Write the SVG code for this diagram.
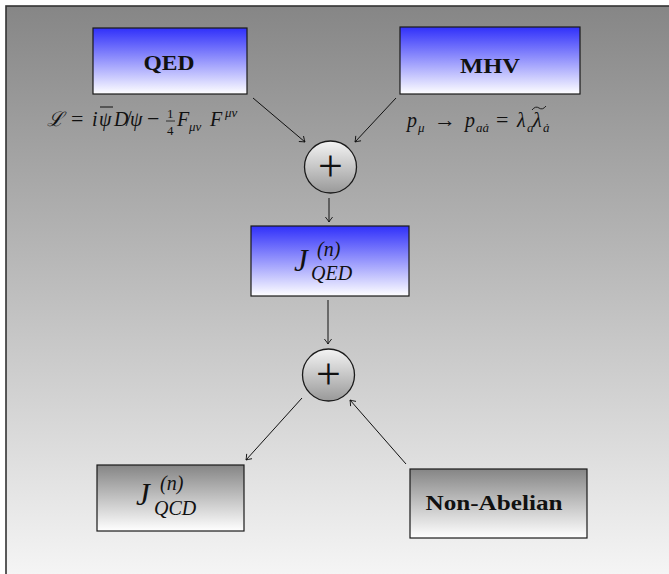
<svg xmlns="http://www.w3.org/2000/svg" width="669" height="574" viewBox="0 0 669 574">
  <defs>
    <linearGradient id="bg" x1="0" y1="0" x2="0" y2="1">
      <stop offset="0" stop-color="#868686"/>
      <stop offset="1" stop-color="#fbfbfb"/>
    </linearGradient>
    <linearGradient id="blue" x1="0" y1="0" x2="0" y2="1">
      <stop offset="0" stop-color="#3030fa"/>
      <stop offset="1" stop-color="#ffffff"/>
    </linearGradient>
    <linearGradient id="gray" x1="0" y1="0" x2="0" y2="1">
      <stop offset="0" stop-color="#858585"/>
      <stop offset="1" stop-color="#ffffff"/>
    </linearGradient>
    <linearGradient id="ball" x1="0" y1="0" x2="0" y2="1">
      <stop offset="0" stop-color="#f4f4f4"/>
      <stop offset="1" stop-color="#999999"/>
    </linearGradient>
    <marker id="tip" markerWidth="10" markerHeight="10" viewBox="-6 -5 8 10" refX="0" refY="0" orient="auto" markerUnits="userSpaceOnUse">
      <path d="M -5 -3.6 Q -1.2 -0.6 0 0 Q -1.2 0.6 -5 3.6" fill="none" stroke="#111" stroke-width="0.9"/>
    </marker>
  </defs>
  <style>
    .box { stroke: #1a1a1a; stroke-width: 1.2; }
    .ball { fill: url(#ball); stroke: #1a1a1a; stroke-width: 1.3; }
    .lbl { font-family: "Liberation Serif", "DejaVu Serif", serif; font-weight: bold; font-size: 20px; fill: #111; text-anchor: middle; }
    .m { font-family: "Liberation Serif", "DejaVu Serif", serif; font-size: 20px; fill: #111; }
    .i { font-style: italic; }
    .s { font-size: 13px; }
    .op { font-size: 22px; }
    .big { font-size: 31px; }
    .mid { font-size: 20px; }
    .plus { font-family: "Liberation Serif", serif; font-size: 44px; fill: #111; text-anchor: middle; }
    .edge { stroke: #111; stroke-width: 1; fill: none; marker-end: url(#tip); }
  </style>

  <!-- backdrop -->
  <rect x="6" y="6" width="700" height="600" fill="url(#bg)" stroke="#333" stroke-width="1.6"/>

  <g id="qed">
    <rect class="box" x="93" y="28" width="154" height="66" fill="url(#blue)"/>
    <text class="lbl" x="169" y="70" textLength="51" lengthAdjust="spacingAndGlyphs">QED</text>
  </g>

  <g id="mhv">
    <rect class="box" x="400" y="27" width="180" height="67" fill="url(#blue)"/>
    <text class="lbl" x="490" y="73" textLength="60" lengthAdjust="spacingAndGlyphs">MHV</text>
  </g>

  <!-- QED Lagrangian -->
  <g id="lagrangian" class="m">
    <text x="47" y="126" font-family="DejaVu Serif, serif" font-style="italic">ℒ</text>
    <text x="71" y="126" class="op">=</text>
    <text x="92" y="126" class="i">i</text>
    <text x="99" y="126" class="i">ψ</text>
    <line x1="100" y1="107" x2="113" y2="107" stroke="#111" stroke-width="1"/>
    <text x="114" y="126" class="i">D̸</text>
    <text x="130" y="126" class="i">ψ</text>
    <text x="147" y="126" class="op">−</text>
    <text x="167" y="118" class="s">1</text>
    <line x1="166" y1="121" x2="175" y2="121" stroke="#111" stroke-width="0.8"/>
    <text x="167" y="135" class="s">4</text>
    <text x="177" y="126" class="i">F</text>
    <text x="189" y="131" class="i s">μν</text>
    <text x="210" y="126" class="i">F</text>
    <text x="225" y="117" class="i s">μν</text>
  </g>

  <!-- spinor-helicity momentum -->
  <g id="momentum" class="m">
    <text x="407" y="127" class="i">p</text>
    <text x="418" y="132" class="i s">μ</text>
    <text x="434" y="127" class="op">→</text>
    <text x="465" y="127" class="i">p</text>
    <text x="476" y="132" class="i s">aȧ</text>
    <text x="496" y="127" class="op">=</text>
    <text x="517" y="127" class="i">λ</text>
    <text x="527" y="132" class="i s">a</text>
    <text x="533" y="127" class="i">λ</text>
    <path d="M 532 110 Q 535.5 105.5 539 108 Q 542.5 110.5 546 106" fill="none" stroke="#111" stroke-width="0.9"/>
    <text x="543" y="132" class="i s">ȧ</text>
  </g>

  <g id="sum1">
    <circle class="ball" cx="330.5" cy="167" r="26"/>
    <text class="plus" x="330.5" y="181">+</text>
  </g>

  <g id="jqed">
    <rect class="box" x="251" y="226" width="158" height="70" fill="url(#blue)"/>
    <text class="m i big" x="294" y="271">J</text>
    <text class="m i mid" x="317" y="256">(n)</text>
    <text class="m i mid" x="311" y="280">QED</text>
  </g>

  <g id="sum2">
    <circle class="ball" cx="328.5" cy="375" r="26"/>
    <text class="plus" x="328.5" y="389">+</text>
  </g>

  <g id="jqcd">
    <rect class="box" x="97" y="465" width="147" height="66" fill="url(#gray)"/>
    <text class="m i big" x="136" y="505">J</text>
    <text class="m i mid" x="160" y="490">(n)</text>
    <text class="m i mid" x="154" y="515">QCD</text>
  </g>

  <g id="nonabelian">
    <rect class="box" x="410" y="469" width="177" height="69" fill="url(#gray)"/>
    <text class="lbl" x="494" y="510" textLength="137" lengthAdjust="spacingAndGlyphs">Non-Abelian</text>
  </g>

  <g id="connectors">
    <line class="edge" x1="253" y1="98" x2="305" y2="142"/>
    <line class="edge" x1="396" y1="98" x2="355" y2="142"/>
    <line class="edge" x1="329" y1="198" x2="329" y2="222"/>
    <line class="edge" x1="328" y1="300" x2="328" y2="344"/>
    <line class="edge" x1="302" y1="398" x2="246" y2="460"/>
    <line class="edge" x1="406" y1="464" x2="350" y2="400"/>
  </g>
</svg>
